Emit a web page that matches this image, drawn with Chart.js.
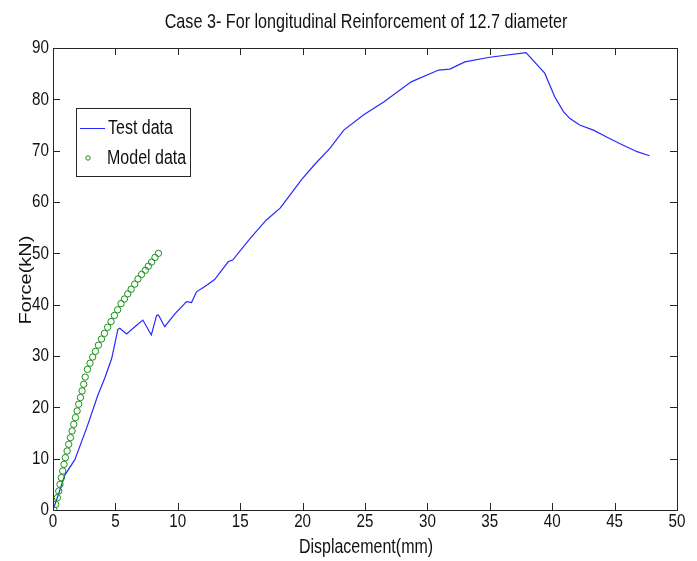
<!DOCTYPE html>
<html>
<head>
<meta charset="utf-8">
<script src="https://cdn.jsdelivr.net/npm/chart.js@4.4.1/dist/chart.umd.min.js"></script>
<style>
    html, body { margin: 0; padding: 0; background: #fff; }
    #wrap { width: 697px; height: 561px; position: relative; }
</style>
</head>
<body>
<div id="wrap"><canvas id="force-chart"></canvas></div>
<script>
const chartTitle = 'Case 3- For longitudinal Reinforcement of 12.7 diameter';
const xLabel = 'Displacement(mm)';
const yLabel = 'Force(kN)';

// Test data (displacement mm, force kN)
const testDisp = [0, 0.5, 0.95, 1.75, 2.7, 3.6, 4.15, 4.7, 5.2, 5.35, 5.9, 6.7, 7.2, 7.88, 8.3, 8.45, 8.95,
    9.8, 10.7, 11.1, 11.5, 12.2, 12.95, 14.05, 14.4, 15.8, 17.1, 18.2, 19.0, 19.9, 21.0, 22.2, 23.3,
    24.9, 26.5, 28.7, 30.9, 31.8, 33.0, 35.0, 37.9, 39.4, 40.2, 40.9, 41.4, 42.2, 43.3, 44.4, 45.4, 46.8, 47.8];
const testForce = [0, 3.5, 6.8, 9.8, 16, 22.4, 25.7, 29.5, 35.2, 35.4, 34.3, 36.0, 37.0, 34.1, 37.9, 38.0, 35.7,
    38.3, 40.6, 40.4, 42.5, 43.6, 44.9, 48.4, 48.7, 52.9, 56.5, 58.8, 61.4, 64.3, 67.4, 70.5, 74.0,
    77.0, 79.5, 83.4, 85.7, 85.9, 87.3, 88.2, 89.1, 85.1, 80.5, 77.6, 76.3, 75.0, 74.0, 72.6, 71.4, 69.8, 69.0];

// Model data
const modelDisp = [0.08, 0.22, 0.35, 0.46, 0.56, 0.67, 0.78, 0.88, 0.99, 1.13, 1.26, 1.4, 1.53, 1.66, 1.8,
    1.93, 2.06, 2.2, 2.33, 2.46, 2.58, 2.76, 2.97, 3.18, 3.4, 3.64, 3.88, 4.12, 4.38, 4.65, 4.92, 5.18,
    5.45, 5.72, 5.99, 6.26, 6.55, 6.81, 7.1, 7.4, 7.64, 7.9, 8.17, 8.45];
const modelForce = [0, 1.1, 2.4, 3.7, 5.0, 6.3, 7.6, 8.9, 10.2, 11.5, 12.8, 14.1, 15.4, 16.7, 18.0,
    19.3, 20.6, 21.9, 23.2, 24.5, 25.9, 27.4, 28.6, 29.8, 30.9, 32.1, 33.3, 34.4, 35.6, 36.7, 37.9, 39.0,
    40.2, 41.1, 42.1, 43.0, 44.0, 45.0, 45.9, 46.7, 47.5, 48.3, 49.2, 50.0];

const xMin = 0, xMax = 50, xStep = 5;
const yMin = 0, yMax = 90, yStep = 10;

const fontFamily = "'Liberation Sans', Arial, sans-serif";
const squeeze = 0.8; // the source figure is stretched tall, so text looks narrow

function toPoints(xs, ys) {
    return xs.map(function (x, i) { return { x: x, y: ys[i] }; });
}

function narrowText(ctx, text, x, y, size, align, rotate, sq) {
    const s = sq || squeeze;
    ctx.save();
    ctx.translate(x, y);
    if (rotate) {
        ctx.rotate(-Math.PI / 2);
        ctx.scale(1, s);
    } else {
        ctx.scale(s, 1);
    }
    ctx.font = size + 'px ' + fontFamily;
    ctx.textAlign = align;
    ctx.textBaseline = 'middle';
    ctx.fillText(text, 0, 0);
    ctx.restore();
}

// box round the axes, inward ticks on all sides, labels, title and legend
const matlabFrame = {
    id: 'matlabFrame',
    afterDraw: function (chart) {
        const ctx = chart.ctx;
        const a = chart.chartArea;
        const xs = chart.scales.x;
        const ys = chart.scales.y;
        const tick = 7;
        ctx.save();
        ctx.strokeStyle = '#262626';
        ctx.lineWidth = 1;
        ctx.strokeRect(Math.round(a.left) + 0.5, Math.round(a.top) + 0.5,
            Math.round(a.right - a.left), Math.round(a.bottom - a.top));
        ctx.beginPath();
        xs.ticks.forEach(function (t) {
            const px = Math.round(xs.getPixelForValue(t.value)) + 0.5;
            ctx.moveTo(px, a.bottom); ctx.lineTo(px, a.bottom - tick);
            ctx.moveTo(px, a.top); ctx.lineTo(px, a.top + tick);
        });
        ys.ticks.forEach(function (t) {
            const py = Math.round(ys.getPixelForValue(t.value)) + 0.5;
            ctx.moveTo(a.left, py); ctx.lineTo(a.left + tick, py);
            ctx.moveTo(a.right, py); ctx.lineTo(a.right - tick, py);
        });
        ctx.stroke();

        ctx.fillStyle = '#111';
        xs.ticks.forEach(function (t) {
            narrowText(ctx, String(t.value), xs.getPixelForValue(t.value), a.bottom + 12, 19, 'center');
        });
        ys.ticks.forEach(function (t) {
            narrowText(ctx, String(t.value), a.left - 4, ys.getPixelForValue(t.value), 19, 'right');
        });

        narrowText(ctx, chartTitle, (a.left + a.right) / 2 + 1, 22, 21, 'center', false, 0.77);
        narrowText(ctx, xLabel, (a.left + a.right) / 2 + 1, 547, 20, 'center');
        narrowText(ctx, yLabel, 27, 280, 20, 'center', true);

        // legend
        const ds = chart.data.datasets;
        const bx = a.left + 23, by = a.top + 60, bw = 114, bh = 68;
        ctx.fillStyle = '#fff';
        ctx.fillRect(bx, by, bw, bh);
        ctx.strokeStyle = '#262626';
        ctx.strokeRect(bx + 0.5, by + 0.5, bw, bh);
        ctx.strokeStyle = ds[0].borderColor;
        ctx.beginPath();
        ctx.moveTo(bx + 4, by + 20.5); ctx.lineTo(bx + 29, by + 20.5);
        ctx.stroke();
        ctx.strokeStyle = ds[1].borderColor;
        ctx.beginPath();
        ctx.arc(bx + 12, by + 50, 2.2, 0, Math.PI * 2);
        ctx.stroke();
        ctx.fillStyle = '#111';
        narrowText(ctx, ds[0].label, bx + 32, by + 20, 20, 'left');
        narrowText(ctx, ds[1].label, bx + 31, by + 50, 20, 'left');
        ctx.restore();
    }
};

const canvas = document.getElementById('force-chart');
new Chart(canvas, {
    type: 'scatter',
    data: {
        datasets: [
            {
                label: 'Test data',
                data: toPoints(testDisp, testForce),
                showLine: true,
                borderColor: 'rgb(40, 40, 255)',
                borderWidth: 1.2,
                pointRadius: 0,
                order: 1
            },
            {
                label: 'Model data',
                data: toPoints(modelDisp, modelForce),
                showLine: false,
                borderColor: 'rgb(25, 145, 25)',
                backgroundColor: 'rgba(0, 0, 0, 0)',
                borderWidth: 1,
                pointRadius: 3.2,
                order: 0
            }
        ]
    },
    options: {
        responsive: true,
        maintainAspectRatio: false,
        animation: false,
        layout: {
            padding: { top: 48, right: 20, bottom: 0, left: 0 }
        },
        plugins: {
            legend: { display: false },
            tooltip: { enabled: false },
            title: { display: false }
        },
        scales: {
            x: {
                type: 'linear',
                min: xMin,
                max: xMax,
                afterFit: function (scale) { scale.height = 51; },
                grid: { display: false },
                border: { display: false },
                ticks: { stepSize: xStep, display: false }
            },
            y: {
                type: 'linear',
                min: yMin,
                max: yMax,
                afterFit: function (scale) { scale.width = 53; },
                grid: { display: false },
                border: { display: false },
                ticks: { stepSize: yStep, display: false }
            }
        }
    },
    plugins: [matlabFrame]
});
</script>
</body>
</html>
